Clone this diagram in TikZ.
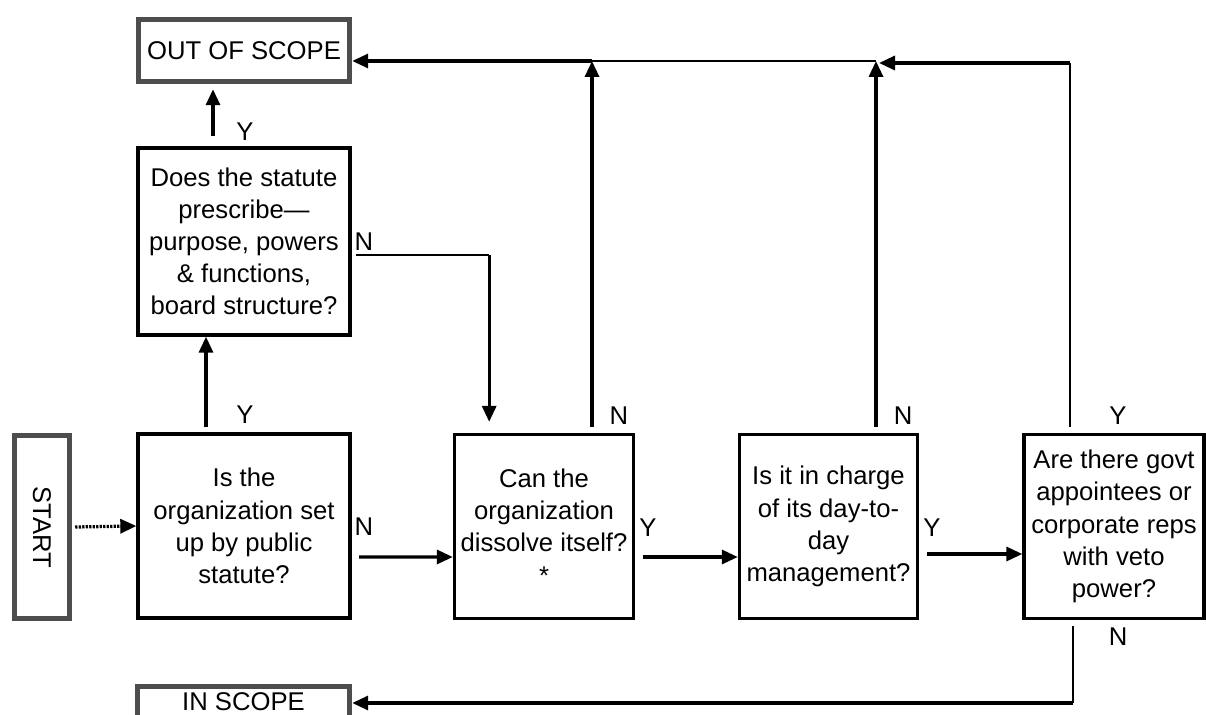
\documentclass[tikz,border=0pt]{standalone}
\usepackage{fontspec}
\setmainfont{Liberation Sans}
\usetikzlibrary{arrows.meta,calc}
\definecolor{termgray}{HTML}{4D4D4D}

\begin{document}
\begin{tikzpicture}[
x=0.02cm, y=-0.02cm,
every node/.style={font=\fontsize{14.6pt}{18.3pt}\selectfont, align=center, inner sep=0pt},
qbox/.style={draw, line width=0.068cm, minimum height=3.68cm},
term/.style={draw=termgray, line width=0.11cm},
arr/.style={line width=0.065cm, -{Triangle[length=0.32cm, width=0.28cm]}},
thinline/.style={line width=0.035cm}
]
\useasboundingbox (0,0) rectangle (1206,715);
\clip (0,0) rectangle (1206,715);

\node[term, minimum width=4.22cm, minimum height=1.24cm] (outsc) at (244,50.5) {OUT OF SCOPE};
\node[qbox, minimum width=4.24cm, minimum height=3.74cm] (q1) at (244,241.5) {Does the statute\\prescribe—\\purpose, powers\\\& functions,\\board structure?};
\node[term, minimum width=1.1cm, minimum height=3.66cm] (start) at (42,527) {\rotatebox{-90}{START}};
\node[qbox, minimum width=4.24cm] (q2) at (244,526) {Is the\\organization set\\up by public\\statute?};
\node[qbox, minimum width=3.58cm] (q3) at (544,526.5) {Can the\\organization\\dissolve itself?\\*};
\node[qbox, minimum width=3.56cm] (q4) at (828.5,526.5) {Is it in charge\\of its day-to-\\day\\management?};
\node[qbox, minimum width=3.6cm] (q5) at (1114,526.5) {Are there govt\\appointees or\\corporate reps\\with veto\\power?};
\node[term, minimum width=4.24cm, minimum height=0.62cm] (insc) at (243.5,702) {IN SCOPE};

% labels
\node (ly1) at (245,132) {Y};
\node (ly2) at (245,415) {Y};
\node (ln1) at (364,242) {N};
\node (ln2) at (364,527) {N};
\node (ln3) at (619,416) {N};
\node (ly3) at (648,528) {Y};
\node (ln4) at (903,416) {N};
\node (ly4) at (932,528) {Y};
\node (ly5) at (1118,416) {Y};
\node (ln5) at (1118,637) {N};

\draw[arr, dash pattern=on 0.045cm off 0.025cm] ([xshift=0.06cm]start.east) -- (q2.west);
\draw[arr] ($(q2.north)+(-38,-5)$) -- ($(q1.south)+(-38,0)$);
\draw[arr] ($(q1.north)+(-31,-10.5)$) -- ($(outsc.south)+(-31,5)$);

\draw[thinline] ($(q1.east)+(4.5,13.5)$) -- ++(133,0) coordinate (k1);
\draw[arr] (k1) -- ($(k1 |- q3.north)+(0,-11)$);
\draw[arr] ($(q2.east)+(7.5,31)$) -- ($(q3.west)+(0,30.5)$);
\draw[arr] ($(q3.east)+(8,30.5)$) -- ($(q4.west)+(0,30.5)$);
\draw[arr] ($(q4.east)+(8,27.5)$) -- ($(q5.west)+(0,27.5)$);

% back to out of scope
\coordinate (j1) at ($(outsc.east -| q3.north)+(48,10.5)$);
\coordinate (j2) at ($(outsc.east -| q4.north)+(47.5,10.5)$);
\draw[arr] ($(q3.north)+(48,-6)$) -- (j1);
\draw[arr] (j1) -- (j1 -| outsc.east);
\draw[thinline] (j1) -- (j2);
\draw[arr] ($(q4.north)+(47.5,-6)$) -- (j2);
\draw[thinline] ($(q5.north)+(-44,-6)$) -- ($(j2 -| q5.north)+(-44,2)$) coordinate (j3);
\draw[arr] (j3) -- ($(j2)+(3,2)$);

% to in scope
\draw[thinline] ($(q5.south)+(-41,6)$) -- ($(q5.south |- insc.east)+(-41,1)$) coordinate (j4);
\draw[arr] (j4) -- (j4 -| insc.east);

\end{tikzpicture}
\end{document}
